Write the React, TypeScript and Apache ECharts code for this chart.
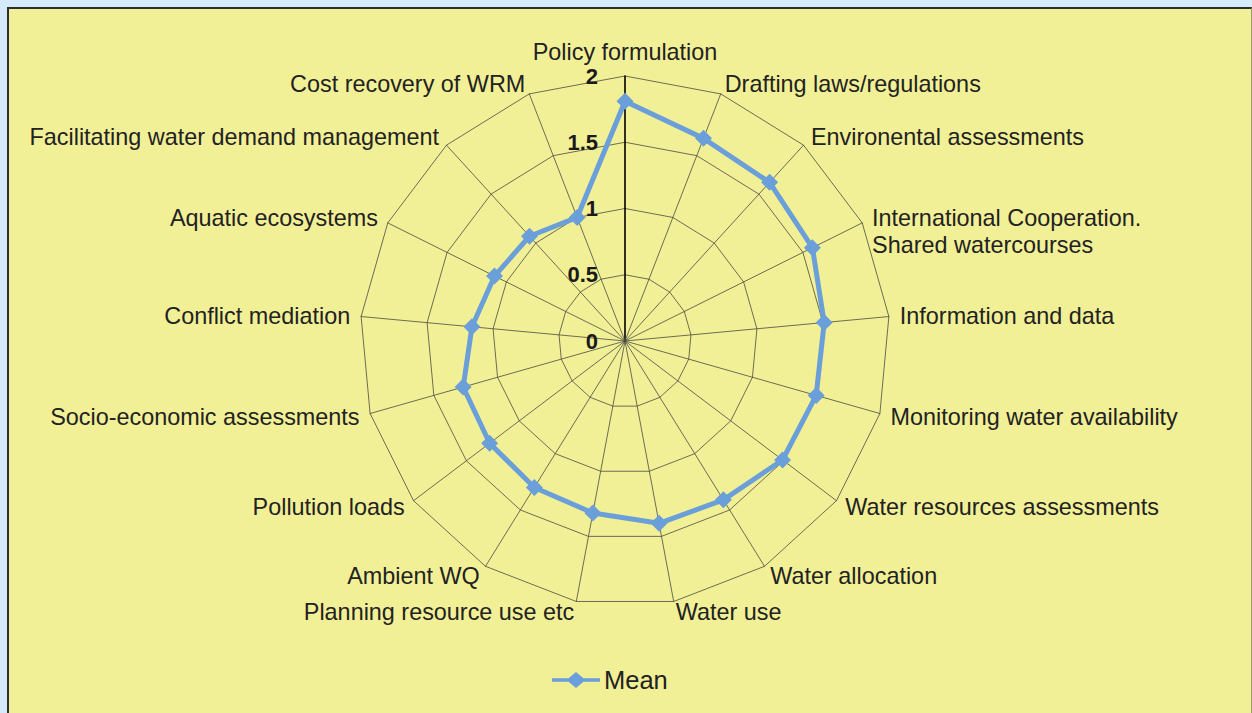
import React, { useEffect, useRef } from "react";
import * as echarts from "echarts";

const categories: string[] = [
  "Policy formulation",
  "Drafting laws/regulations",
  "Environental assessments",
  "International Cooperation.\nShared watercourses",
  "Information and data",
  "Monitoring water availability",
  "Water resources assessments",
  "Water allocation",
  "Water use",
  "Planning resource use etc",
  "Ambient WQ",
  "Pollution loads",
  "Socio-economic assessments",
  "Conflict mediation",
  "Aquatic ecosystems",
  "Facilitating water demand management",
  "Cost recovery of WRM",
];

const meanValues: number[] = [
  1.81, 1.64, 1.62, 1.58, 1.51, 1.5, 1.49, 1.41, 1.4, 1.32, 1.3, 1.28, 1.27,
  1.16, 1.1, 1.07, 1.0,
];

const seriesName = "Mean";
const axisMax = 2;
const axisSplits = 4;

const FONT = "'Liberation Sans', Arial, sans-serif";

// ECharts radar runs counter-clockwise; reorder (keeping the first on top) so it reads clockwise.
const order: number[] = [0, ...categories.map((_, i) => i).slice(1).reverse()];

const LEGEND_ICON =
  "path://M0,6.2 L16.5,6.2 L24,0 L31.5,6.2 L48,6.2 L48,9.8 L31.5,9.8 L24,16 L16.5,9.8 L0,9.8 Z";

export default function App() {
  const ref = useRef<HTMLDivElement>(null);

  useEffect(() => {
    if (!ref.current) return;
    const chart = echarts.init(ref.current, undefined, { renderer: "svg" });
    const option: any = {
      animation: false,
      backgroundColor: "transparent",
      textStyle: { fontFamily: FONT },
      legend: {
        data: [{ name: seriesName, icon: LEGEND_ICON }],
        left: 552,
        top: 667,
        padding: 0,
        itemWidth: 48,
        itemHeight: 16,
        itemGap: 10,
        textStyle: {
          fontFamily: FONT,
          fontSize: 25.5,
          color: "#222",
          padding: [0, 0, 0, -1],
        },
      },
      radar: {
        center: [625, 341],
        radius: 265,
        startAngle: 90,
        shape: "polygon",
        splitNumber: axisSplits,
        nameGap: 11,
        axisName: {
          color: "#222",
          fontSize: 23.4,
          lineHeight: 27,
          fontFamily: FONT,
          formatter: (name: string) =>
            name.indexOf("\n") >= 0 ? "\n" + name : name,
        },
        axisLine: { lineStyle: { color: "#4a4a40", width: 0.8 } },
        splitLine: { lineStyle: { color: "#4a4a40", width: 0.8 } },
        splitArea: { show: false },
        axisTick: { show: false },
        axisLabel: { show: false },
        indicator: order.map((idx, i) =>
          i === 0
            ? {
                name: categories[idx],
                min: 0,
                max: axisMax,
                axisLine: { lineStyle: { color: "#000", width: 1.6 } },
                axisLabel: {
                  show: true,
                  margin: 27,
                  fontSize: 22,
                  fontWeight: "bold",
                  color: "#1a1a1a",
                  fontFamily: FONT,
                },
              }
            : { name: categories[idx], min: 0, max: axisMax }
        ),
      },
      series: [
        {
          type: "radar",
          name: seriesName,
          symbol: "diamond",
          symbolSize: 17,
          lineStyle: { color: "#6a9fd9", width: 5 },
          itemStyle: { color: "#6a9fd9" },
          data: [{ value: order.map((idx) => meanValues[idx]), name: seriesName }],
        },
      ],
    };
    chart.setOption(option);
    return () => chart.dispose();
  }, []);

  return (
    <div
      style={{
        position: "fixed",
        left: 0,
        top: 0,
        width: 1252,
        height: 713,
        background: "#d4ecfa",
        overflow: "hidden",
      }}
    >
      <div
        style={{
          position: "absolute",
          left: 7,
          top: 7,
          width: 1242,
          height: 720,
          background: "#f2f097",
          borderLeft: "2px solid #2e2e2e",
          borderTop: "2px solid #2e2e2e",
          borderRight: "1px solid #9a9a80",
        }}
      />
      <div
        ref={ref}
        style={{ position: "absolute", left: 0, top: 0, width: 1252, height: 713 }}
      />
    </div>
  );
}
